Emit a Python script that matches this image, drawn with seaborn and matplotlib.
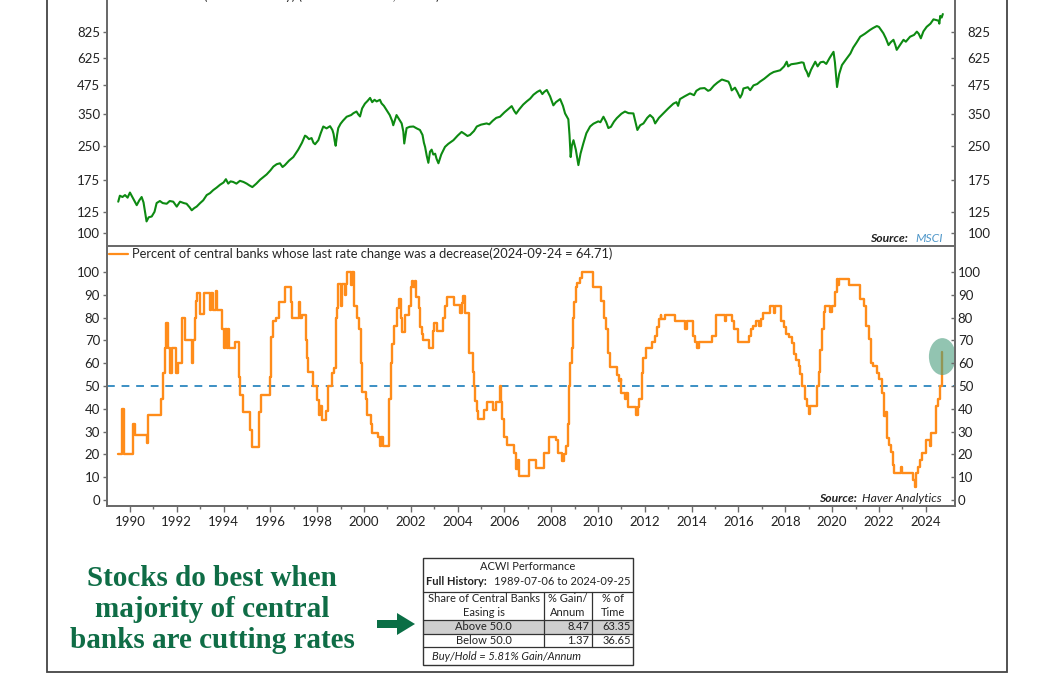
import numpy as np
import pandas as pd
import matplotlib
matplotlib.use("Agg")
import matplotlib.pyplot as plt
import seaborn as sns
from matplotlib.lines import Line2D
from matplotlib.patches import Ellipse, Rectangle, FancyArrow
from matplotlib.ticker import NullLocator, FixedLocator, FixedFormatter

# ---------------- data ----------------
acwi_year = [1989.50, 1989.57, 1989.68, 1989.79, 1989.90, 1990.00, 1990.10, 1990.21, 1990.29, 1990.40,
             1990.50, 1990.58, 1990.71, 1990.80, 1990.93, 1991.05, 1991.14, 1991.28, 1991.40, 1991.57,
             1991.70, 1991.85, 1992.00, 1992.14, 1992.30, 1992.42, 1992.55, 1992.64, 1992.75, 1992.85,
             1993.00, 1993.13, 1993.28, 1993.42, 1993.56, 1993.70, 1993.85, 1994.00, 1994.10, 1994.20,
             1994.30, 1994.41, 1994.55, 1994.70, 1994.85, 1994.99, 1995.10, 1995.23, 1995.40, 1995.56,
             1995.70, 1995.84, 1996.00, 1996.13, 1996.27, 1996.41, 1996.52, 1996.62, 1996.80, 1996.98,
             1997.10, 1997.19, 1997.35, 1997.48, 1997.55, 1997.65, 1997.76, 1997.84, 1997.91, 1998.05,
             1998.15, 1998.26, 1998.40, 1998.55, 1998.65, 1998.70, 1998.75, 1998.79, 1998.85, 1998.90,
             1999.00, 1999.10, 1999.26, 1999.45, 1999.55, 1999.68, 1999.75, 1999.83, 1999.92, 2000.04,
             2000.15, 2000.26, 2000.35, 2000.45, 2000.54, 2000.68, 2000.75, 2000.85, 2000.97, 2001.10,
             2001.20, 2001.25, 2001.39, 2001.50, 2001.61, 2001.68, 2001.72, 2001.82, 2001.95, 2002.11,
             2002.25, 2002.39, 2002.50, 2002.56, 2002.61, 2002.68, 2002.75, 2002.82, 2002.89, 2002.96,
             2003.04, 2003.10, 2003.18, 2003.30, 2003.46, 2003.60, 2003.82, 2004.00, 2004.17, 2004.30,
             2004.42, 2004.53, 2004.70, 2004.82, 2005.00, 2005.24, 2005.35, 2005.50, 2005.65, 2005.81,
             2006.00, 2006.20, 2006.31, 2006.42, 2006.50, 2006.62, 2006.80, 2006.95, 2007.10, 2007.24,
             2007.40, 2007.52, 2007.62, 2007.70, 2007.81, 2007.95, 2008.09, 2008.20, 2008.38, 2008.50,
             2008.59, 2008.73, 2008.78, 2008.83, 2008.88, 2008.95, 2009.05, 2009.16, 2009.25, 2009.37,
             2009.50, 2009.66, 2009.80, 2010.01, 2010.10, 2010.23, 2010.35, 2010.44, 2010.55, 2010.68,
             2010.80, 2011.00, 2011.15, 2011.30, 2011.51, 2011.60, 2011.68, 2011.80, 2011.94, 2012.10,
             2012.22, 2012.35, 2012.44, 2012.60, 2012.79, 2013.00, 2013.22, 2013.35, 2013.42, 2013.50,
             2013.70, 2013.93, 2014.10, 2014.20, 2014.36, 2014.55, 2014.70, 2014.79, 2014.95, 2015.10,
             2015.29, 2015.45, 2015.57, 2015.65, 2015.71, 2015.85, 2015.95, 2016.07, 2016.15, 2016.21,
             2016.40, 2016.50, 2016.64, 2016.80, 2016.92, 2017.10, 2017.35, 2017.50, 2017.78, 2017.95,
             2018.06, 2018.12, 2018.25, 2018.49, 2018.70, 2018.78, 2018.85, 2018.93, 2018.99, 2019.10,
             2019.28, 2019.38, 2019.50, 2019.63, 2019.75, 2019.90, 2020.06, 2020.12, 2020.18, 2020.21,
             2020.30, 2020.42, 2020.60, 2020.78, 2020.90, 2021.05, 2021.20, 2021.40, 2021.62, 2021.75,
             2021.91, 2022.00, 2022.10, 2022.19, 2022.30, 2022.41, 2022.50, 2022.62, 2022.70, 2022.76,
             2022.90, 2023.05, 2023.15, 2023.33, 2023.50, 2023.62, 2023.70, 2023.79, 2023.90, 2024.04,
             2024.20, 2024.33, 2024.45, 2024.55, 2024.58, 2024.62, 2024.68, 2024.73]
acwi_value = [139, 148, 146, 149, 145, 153, 146, 139, 134, 141,
              146, 138, 113, 118, 119, 125, 137, 140, 137, 136,
              140, 139, 132, 139, 137, 136, 131, 127, 130, 132,
              137, 141, 149, 152, 157, 161, 166, 170, 176, 168,
              172, 171, 168, 173, 171, 168, 165, 162, 168, 175,
              180, 185, 193, 201, 206, 208, 200, 204, 214, 222,
              232, 240, 258, 278, 275, 268, 271, 258, 254, 265,
              285, 306, 300, 307, 295, 283, 262, 250, 280, 301,
              315, 325, 339, 345, 352, 358, 348, 340, 370, 389,
              400, 413, 395, 405, 398, 405, 390, 380, 363, 345,
              325, 310, 345, 330, 316, 290, 256, 301, 305, 306,
              300, 295, 280, 258, 247, 225, 209, 235, 240, 228,
              230, 218, 208, 228, 247, 255, 265, 278, 289, 283,
              277, 280, 292, 306, 312, 316, 313, 325, 335, 339,
              355, 370, 379, 360, 350, 365, 385, 398, 410, 427,
              440, 447, 430, 440, 449, 420, 382, 395, 408, 380,
              351, 330, 280, 222, 250, 265, 240, 204, 230, 256,
              285, 306, 315, 323, 320, 339, 320, 301, 305, 322,
              334, 350, 358, 352, 351, 320, 295, 310, 316, 335,
              345, 335, 316, 335, 351, 370, 389, 395, 380, 408,
              420, 433, 425, 445, 456, 458, 445, 449, 470, 485,
              501, 495, 490, 470, 447, 460, 440, 414, 430, 456,
              462, 448, 471, 478, 490, 505, 531, 542, 552, 575,
              604, 575, 588, 593, 600, 597, 560, 540, 517, 555,
              604, 575, 600, 604, 590, 630, 670, 600, 500, 463,
              530, 583, 620, 658, 700, 740, 785, 810, 843, 860,
              878, 870, 840, 814, 770, 719, 740, 760, 720, 684,
              720, 760, 745, 785, 800, 828, 810, 772, 830, 871,
              900, 942, 935, 928, 900, 977, 960, 996]

cb_year = [1989.50, 1989.67, 1989.74, 1990.11, 1990.21, 1990.73, 1990.76, 1990.79, 1991.31, 1991.40,
           1991.50, 1991.54, 1991.64, 1991.71, 1991.81, 1991.97, 1992.07, 1992.24, 1992.36, 1992.67,
           1992.70, 1992.76, 1992.81, 1992.86, 1993.00, 1993.17, 1993.40, 1993.46, 1993.57, 1993.67,
           1993.74, 1993.93, 1994.00, 1994.07, 1994.14, 1994.17, 1994.24, 1994.47, 1994.64, 1994.71,
           1994.83, 1995.14, 1995.21, 1995.53, 1995.60, 1996.00, 1996.04, 1996.10, 1996.26, 1996.36,
           1996.61, 1996.86, 1996.93, 1997.21, 1997.26, 1997.36, 1997.53, 1997.57, 1997.61, 1997.81,
           1998.00, 1998.07, 1998.14, 1998.19, 1998.36, 1998.46, 1998.64, 1998.71, 1998.79, 1998.86,
           1998.90, 1999.03, 1999.07, 1999.17, 1999.21, 1999.29, 1999.43, 1999.50, 1999.57, 1999.71,
           1999.79, 1999.89, 1999.93, 2000.07, 2000.14, 2000.29, 2000.33, 2000.61, 2000.69, 2000.71,
           2000.81, 2001.07, 2001.14, 2001.21, 2001.29, 2001.40, 2001.50, 2001.57, 2001.64, 2001.74,
           2001.93, 2002.00, 2002.07, 2002.11, 2002.17, 2002.24, 2002.33, 2002.40, 2002.46, 2002.54,
           2002.79, 2002.93, 2003.00, 2003.10, 2003.36, 2003.46, 2003.54, 2003.86, 2004.11, 2004.17,
           2004.21, 2004.31, 2004.50, 2004.64, 2004.71, 2004.76, 2004.83, 2004.89, 2005.11, 2005.26,
           2005.53, 2005.64, 2005.81, 2005.84, 2005.89, 2006.00, 2006.11, 2006.40, 2006.50, 2006.57,
           2006.61, 2007.07, 2007.36, 2007.71, 2007.90, 2008.19, 2008.29, 2008.47, 2008.53, 2008.61,
           2008.71, 2008.76, 2008.81, 2008.87, 2008.93, 2008.99, 2009.04, 2009.10, 2009.21, 2009.33,
           2009.79, 2010.14, 2010.24, 2010.36, 2010.43, 2010.50, 2010.79, 2010.89, 2010.96, 2011.00,
           2011.14, 2011.19, 2011.29, 2011.64, 2011.69, 2011.76, 2011.86, 2011.93, 2012.04, 2012.29,
           2012.43, 2012.53, 2012.61, 2012.67, 2012.71, 2012.86, 2013.29, 2013.71, 2013.81, 2014.07,
           2014.14, 2014.21, 2014.33, 2014.86, 2015.04, 2015.43, 2015.47, 2015.71, 2015.79, 2016.00,
           2016.43, 2016.53, 2016.64, 2016.76, 2016.86, 2016.96, 2017.04, 2017.36, 2017.50, 2017.57,
           2017.81, 2017.93, 2018.04, 2018.14, 2018.29, 2018.39, 2018.47, 2018.57, 2018.64, 2018.71,
           2018.86, 2018.93, 2019.00, 2019.07, 2019.36, 2019.43, 2019.50, 2019.57, 2019.64, 2019.71,
           2019.93, 2020.00, 2020.14, 2020.21, 2020.27, 2020.31, 2020.71, 2021.21, 2021.36, 2021.43,
           2021.57, 2021.64, 2021.76, 2021.93, 2022.00, 2022.14, 2022.21, 2022.29, 2022.36, 2022.43,
           2022.53, 2022.61, 2022.66, 2022.96, 2023.00, 2023.47, 2023.53, 2023.60, 2023.67, 2023.74,
           2023.83, 2024.00, 2024.19, 2024.24, 2024.43, 2024.54, 2024.63, 2024.68, 2024.71]
cb_pct = [20, 40, 20, 33.3, 28.6, 25, 28.6, 37.5, 44.4, 55.6,
          66.7, 77.8, 66.7, 55.6, 66.7, 55.6, 60, 80, 70, 60,
          70, 80, 87.5, 90.9, 81.8, 90.9, 83.3, 90.9, 83.3, 91.7,
          83.3, 75, 66.7, 75, 66.7, 75, 66.7, 69.2, 53.8, 46.2,
          38.5, 30.8, 23.1, 38.5, 46.2, 53.8, 71.4, 78.6, 80, 86.7,
          93.3, 86.7, 80, 86.7, 80, 81.3, 70, 62.5, 56.3, 50,
          43.8, 37.5, 41.2, 35.3, 38.9, 50, 55.6, 57.9, 80, 84.2,
          94.7, 85, 94.7, 90, 94.7, 100, 94.4, 100, 85, 80,
          75, 60, 47.4, 44.4, 37.5, 33.3, 29.4, 27.8, 23.5, 27.8,
          23.5, 44.4, 60, 68.4, 76.2, 84.2, 88.2, 80, 73.7, 81.3,
          85, 93.3, 96.2, 93.3, 96.2, 88.9, 84, 76, 73, 70,
          66.7, 74.1, 77.8, 74.1, 80, 85.2, 88.9, 85.7, 82.1, 86.2,
          89.3, 82.1, 64.3, 56, 50, 43.5, 39.1, 35.7, 39.3, 42.9,
          39.3, 42.9, 50, 42.9, 35.7, 27.8, 24, 20.8, 13.6, 17.4,
          10.5, 17.4, 13.9, 20.8, 27.8, 26.5, 20.6, 17.1, 20, 23.5,
          33.3, 50, 60, 66.7, 80, 86.7, 93.3, 95.2, 97.5, 100,
          93.3, 87.5, 80, 75, 64.7, 58.3, 55, 52.4, 53.3, 47.1,
          44.4, 47.1, 40.7, 37.5, 40.7, 44.4, 55.6, 62.5, 66.7, 69.2,
          72, 76, 79.2, 81.3, 79.2, 81.3, 78.6, 75, 78.6, 72,
          69.2, 66.7, 69.2, 72, 81.3, 78.6, 81.3, 78.6, 75, 69.2,
          72, 75, 76.5, 78.6, 76.5, 79.2, 82.1, 85.2, 82.1, 85.2,
          78.6, 76, 73, 71.4, 69, 64, 61.5, 58.6, 55.2, 50,
          44.4, 41.4, 37.9, 41.4, 50, 56.3, 65.6, 75, 82.4, 85.3,
          82.4, 85.3, 91.2, 97.1, 94.1, 97.1, 94.1, 88.2, 85.3, 76.5,
          70.6, 60, 58.8, 55.9, 52.9, 47.1, 36.8, 38.5, 27.3, 24.2,
          21.2, 15.2, 11.8, 14.7, 11.8, 8.8, 5.9, 11.8, 14.7, 17.6,
          20.6, 26.5, 23.5, 29.4, 41.2, 44.1, 50, 55.9, 64.71]

top_ticks = [100, 125, 175, 250, 350, 475, 625, 825]
pct_ticks = [0, 10, 20, 30, 40, 50, 60, 70, 80, 90, 100]
year_ticks = list(range(1990, 2025, 2))
minor_years = list(range(1991, 2025, 2))
threshold = 50

acwi_label = "MSCI ACWI (Local Currency) (2024-09-25 = 1,007.04)"
cb_label = "Percent of central banks whose last rate change was a decrease(2024-09-24 = 64.71)"

table_title = "ACWI Performance"
table_hist_bold = "Full History:"
table_hist = "1989-07-06 to 2024-09-25"
table_header = ["Share of Central Banks\nEasing is", "% Gain/\nAnnum", "% of\nTime"]
table_rows = [["Above 50.0", "8.47", "63.35"], ["Below 50.0", "1.37", "36.65"]]
table_foot = "Buy/Hold = 5.81% Gain/Annum"
callout_lines = ["Stocks do best when", "majority of central", "banks are cutting rates"]

# ---------------- style ----------------
sns.set_theme(style="ticks")
plt.rcParams["font.family"] = ["Lato", "DejaVu Sans"]
plt.rcParams["axes.facecolor"] = "none"

GREEN = "#0d8a12"
ORANGE = "#ff8c1a"
DASH = "#3b8fc4"
SPINE = "#6b6b6b"
TXT = "#222222"

W, H = 1056, 675
fig = plt.figure(figsize=(W / 100, H / 100), dpi=100)
fig.patch.set_facecolor("white")


def px_rect(l, t, r, b):
    return [l / W, 1 - b / H, (r - l) / W, (b - t) / H]


# overlay in pixel coordinates for frame, table, callout
ov = fig.add_axes([0, 0, 1, 1])
ov.set_xlim(0, W)
ov.set_ylim(H, 0)
ov.axis("off")
ov.set_zorder(0)

ax1 = fig.add_axes(px_rect(107, -12, 955, 246))
ax2 = fig.add_axes(px_rect(107, 246, 955, 506))
for a in (ax1, ax2):
    a.set_zorder(2)

xlim = (1989.02, 2025.25)

# ---------------- top panel ----------------
sns.lineplot(x=acwi_year, y=acwi_value, ax=ax1, color=GREEN, lw=1.5,
             estimator=None, sort=False)
ax1.set_yscale("log")
ax1.set_ylim(87.3, 1309)
ax1.set_xlim(*xlim)
ax1.yaxis.set_major_locator(FixedLocator(top_ticks))
ax1.yaxis.set_major_formatter(FixedFormatter([str(t) for t in top_ticks]))
ax1.yaxis.set_minor_locator(NullLocator())
ax1.tick_params(axis="x", bottom=False, labelbottom=False)
ax1.tick_params(axis="y", direction="out", length=3, width=1, color=SPINE,
                labelsize=9.5, labelcolor=TXT, pad=2)
ax1.set_xlabel("")
ax1.set_ylabel("")
ax1.spines["top"].set_visible(False)

ax1r = ax1.twinx()
ax1r.set_yscale("log")
ax1r.set_ylim(ax1.get_ylim())
ax1r.yaxis.set_major_locator(FixedLocator(top_ticks))
ax1r.yaxis.set_major_formatter(FixedFormatter([str(t) for t in top_ticks]))
ax1r.yaxis.set_minor_locator(NullLocator())
ax1r.tick_params(axis="y", direction="in", length=3, width=1, color=SPINE,
                 labelsize=9.5, labelcolor=TXT, pad=9)
ax1r.spines["top"].set_visible(False)
ax1r.set_zorder(2)

for a in (ax1, ax1r):
    for s in a.spines.values():
        s.set_color(SPINE)
        s.set_linewidth(1.4)

ax1.legend(handles=[Line2D([], [], color=GREEN, lw=1.5)], labels=[acwi_label],
           loc="upper left", bbox_to_anchor=(0, 1), borderaxespad=0, borderpad=0.15,
           handlelength=1.5, handletextpad=0.25, frameon=False, fontsize=9.3)

ax1.text(0.986, 0.03, "MSCI", transform=ax1.transAxes, ha="right", va="center",
         fontsize=8.7, style="italic", color="#4f97c9")
ax1.text(0.9446, 0.03, "Source:", transform=ax1.transAxes, ha="right", va="center",
         fontsize=8.7, style="italic", fontweight="bold", color=TXT)

# ---------------- bottom panel ----------------
sns.lineplot(x=cb_year, y=cb_pct, ax=ax2, color=ORANGE, lw=1.7,
             drawstyle="steps-post", estimator=None, sort=False)
ax2.axhline(threshold, color=DASH, ls=(0, (4, 3.5)), lw=1.4, zorder=1)
ax2.set_ylim(-2.6, 111.4)
ax2.set_xlim(*xlim)
ax2.set_yticks(pct_ticks)
ax2.set_xticks(year_ticks)
ax2.set_xticklabels([str(y) for y in year_ticks])
ax2.xaxis.set_minor_locator(FixedLocator(minor_years))
ax2.tick_params(axis="x", which="major", direction="out", length=4, width=1,
                color=SPINE, labelsize=9.5, labelcolor=TXT, pad=3)
ax2.tick_params(axis="x", which="minor", direction="out", length=2.5, width=1, color=SPINE)
ax2.tick_params(axis="y", direction="out", length=3, width=1, color=SPINE,
                labelsize=9.5, labelcolor=TXT, pad=2)
ax2.set_xlabel("")
ax2.set_ylabel("")

ax2r = ax2.twinx()
ax2r.set_ylim(ax2.get_ylim())
ax2r.set_yticks(pct_ticks)
ax2r.tick_params(axis="y", direction="in", length=3, width=1, color=SPINE,
                 labelsize=9.5, labelcolor=TXT, pad=2)
ax2r.set_zorder(2)
for a in (ax2, ax2r):
    for s in a.spines.values():
        s.set_color(SPINE)
        s.set_linewidth(1.4)

ax2.legend(handles=[Line2D([], [], color=ORANGE, lw=1.6)], labels=[cb_label],
           loc="upper left", bbox_to_anchor=(0, 1), borderaxespad=0, borderpad=0.15,
           handlelength=1.5, handletextpad=0.25, frameon=False, fontsize=9.3)

ax2.text(0.9847, 0.03, "Haver Analytics", transform=ax2.transAxes, ha="right", va="center",
         fontsize=8.7, style="italic", color=TXT)
ax2.text(0.8844, 0.03, "Source:", transform=ax2.transAxes, ha="right", va="center",
         fontsize=8.7, style="italic", fontweight="bold", color=TXT)

# highlight of latest reading
ax2.add_patch(Ellipse((cb_year[-1], cb_pct[-1] - 1.8), width=1.15, height=16.2,
                      facecolor="#4a9d7e", edgecolor="none", alpha=0.6,
                      clip_on=False, zorder=5))

# ---------------- frame, callout, table ----------------
ov.add_patch(Rectangle((47, -10), 960, 682, fill=False, ec="#444444", lw=1.3))

for i, line in enumerate(callout_lines):
    ov.text(212, 578 + i * 31.5, line, ha="center", va="center", fontsize=21,
            fontweight="bold", family="Liberation Serif", color="#0f6d46")

ov.add_patch(FancyArrow(377, 624, 38, 0, width=8, head_width=22, head_length=18,
                        length_includes_head=True, color="#0a6e45", lw=0))

L, R, T, B = 423, 633, 558, 665
c1, c2 = 544, 592
h1, h2, h3, h4 = 592, 620, 634, 647
ov.add_patch(Rectangle((L, h2), R - L, h3 - h2, facecolor="#cfcfcf", edgecolor="none"))
ov.add_patch(Rectangle((L, T), R - L, B - T, fill=False, ec="#333333", lw=1.0))
for yy in (h1, h2, h3, h4):
    ov.plot([L, R], [yy, yy], color="#333333", lw=0.9)
for xx in (c1, c2):
    ov.plot([xx, xx], [h1, h4], color="#333333", lw=0.9)

tfs = 8.0
ov.text((L + R) / 2, 566, table_title, ha="center", va="center", fontsize=tfs, color=TXT)
ov.text(426.5, 581.5, table_hist_bold, ha="left", va="center", fontsize=tfs,
        fontweight="bold", color=TXT)
ov.text(631, 581.5, table_hist, ha="right", va="center", fontsize=tfs, color=TXT)
centers = [(L + c1) / 2, (c1 + c2) / 2, (c2 + R) / 2]
for cx, htxt in zip(centers, table_header):
    ov.text(cx, 605.5, htxt, ha="center", va="center", fontsize=tfs, color=TXT,
            linespacing=1.3)
for ri, row in enumerate(table_rows):
    yy = (h2 + h3) / 2 if ri == 0 else (h3 + h4) / 2
    ov.text(centers[0], yy, row[0], ha="center", va="center", fontsize=tfs, color=TXT)
    ov.text(c2 - 3, yy, row[1], ha="right", va="center", fontsize=tfs, color=TXT)
    ov.text(R - 2, yy, row[2], ha="right", va="center", fontsize=tfs, color=TXT)
ov.text(432, 656, table_foot, ha="left", va="center", fontsize=tfs, style="italic", color=TXT)

fig.savefig("out.png", dpi=100)
